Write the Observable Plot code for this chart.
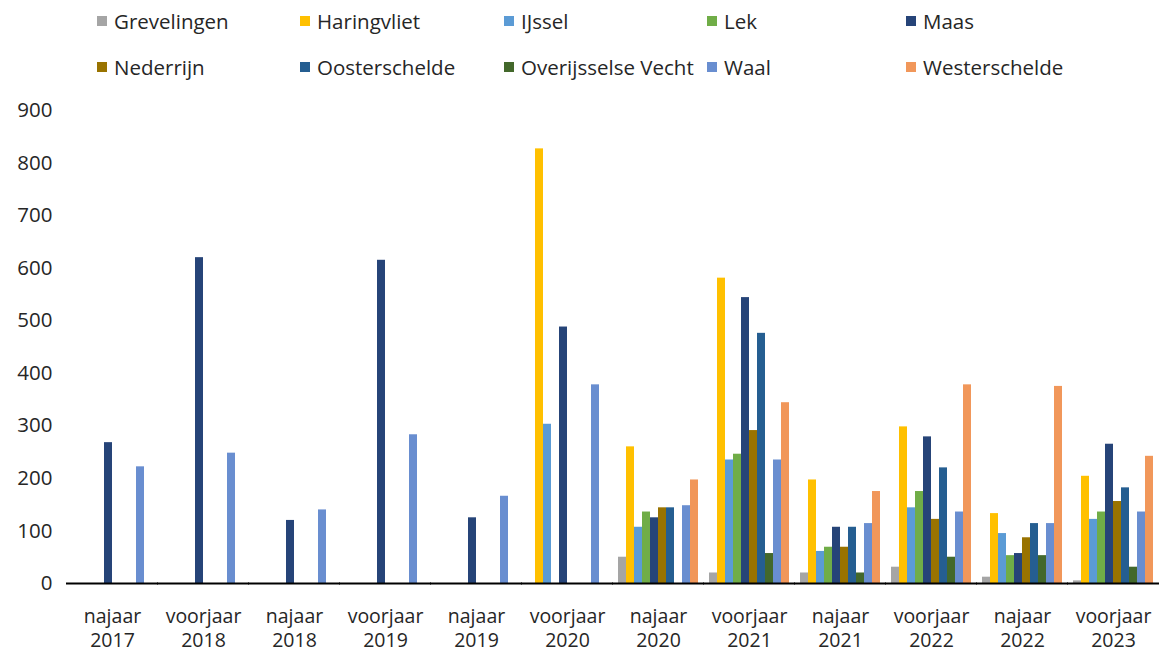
<!DOCTYPE html>
<html>
<head>
<meta charset="utf-8">
<script src="https://cdn.jsdelivr.net/npm/d3@7"></script>
<script src="https://cdn.jsdelivr.net/npm/@observablehq/plot@0.6"></script>
<style>
  html, body { margin: 0; padding: 0; background: #fff; }
  body { width: 1159px; height: 655px; overflow: hidden; font-family: "Open Sans", sans-serif; color: #262626; }
  #legend { height: 90px; position: relative; }
  .item { position: absolute; display: flex; align-items: center; font-size: 20.5px; white-space: nowrap; }
  .sw { width: 10px; height: 10px; margin-right: 7px; display: inline-block; }
</style>
</head>
<body>
<div id="legend"></div>
<div id="chart"></div>
<script>
const periods = ["najaar 2017","voorjaar 2018","najaar 2018","voorjaar 2019","najaar 2019","voorjaar 2020","najaar 2020","voorjaar 2021","najaar 2021","voorjaar 2022","najaar 2022","voorjaar 2023"];
const series = ["Grevelingen","Haringvliet","IJssel","Lek","Maas","Nederrijn","Oosterschelde","Overijsselse Vecht","Waal","Westerschelde"];
const colors = ["#A5A5A5","#FFC000","#5B9BD5","#70AD47","#264478","#997300","#255E91","#43682B","#698ED0","#F1975A"];

const grevelingen   = [null,null,null,null,null,null,50,20,20,31,12,5];
const haringvliet   = [null,null,null,null,null,827,260,581,197,298,133,204];
const ijssel        = [null,null,null,null,null,303,107,235,61,144,95,122];
const lek           = [null,null,null,null,null,null,136,246,69,175,53,136];
const maas          = [268,620,120,615,125,488,125,544,107,279,57,265];
const nederrijn     = [null,null,null,null,null,null,144,291,69,122,87,156];
const oosterschelde = [null,null,null,null,null,null,144,476,107,220,114,182];
const overijsselseVecht = [null,null,null,null,null,null,null,57,20,50,53,31];
const waal          = [222,248,140,283,166,378,148,235,114,136,114,136];
const westerschelde = [null,null,null,null,null,null,197,344,175,378,375,242];

const yTicks = [0,100,200,300,400,500,600,700,800,900];

const seriesValues = [grevelingen, haringvliet, ijssel, lek, maas, nederrijn, oosterschelde, overijsselseVecht, waal, westerschelde];
const data = [];
series.forEach((s, i) => periods.forEach((p, j) => {
  const v = seriesValues[i][j];
  if (v != null) data.push({period: p, series: s, value: v});
}));

// legend
const legend = document.getElementById("legend");
const colLeft = [97, 300, 504, 707, 906];
series.forEach((s, i) => {
  const row = Math.floor(i / 5), col = i % 5;
  const d = document.createElement("div");
  d.className = "item";
  d.style.left = colLeft[col] + "px";
  d.style.top = (row === 0 ? 7 : 53) + "px";
  d.innerHTML = `<span class="sw" style="background:${colors[i]}"></span><span>${s}</span>`;
  legend.appendChild(d);
});

const chart = Plot.plot({
  width: 1159,
  height: 565,
  marginLeft: 66,
  marginRight: 0,
  marginTop: 20,
  marginBottom: 72,
  style: {fontFamily: "Open Sans", fontSize: "20.5px", color: "#262626", background: "white"},
  fx: {domain: periods, paddingInner: 0.12, paddingOuter: 0.06, label: null},
  x: {domain: series, axis: null, padding: 0},
  y: {domain: [0, 900], label: null},
  color: {domain: series, range: colors},
  marks: [
    Plot.axisY({ticks: yTicks, tickSize: 0, tickPadding: 20, fontSize: 20.5, label: null}),
    Plot.axisFx({anchor: "bottom", tickSize: 0, tickPadding: 22, fontSize: 19.5, lineHeight: 1.25, label: null,
                 tickFormat: d => d.replace(" ", "\n")}),
    Plot.barY(data, {fx: "period", x: "series", y: "value", fill: "series"}),
    Plot.ruleY([0], {stroke: "black", strokeWidth: 2, insetLeft: -6, insetRight: -6})
  ]
});
document.getElementById("chart").appendChild(chart);
</script>
</body>
</html>
